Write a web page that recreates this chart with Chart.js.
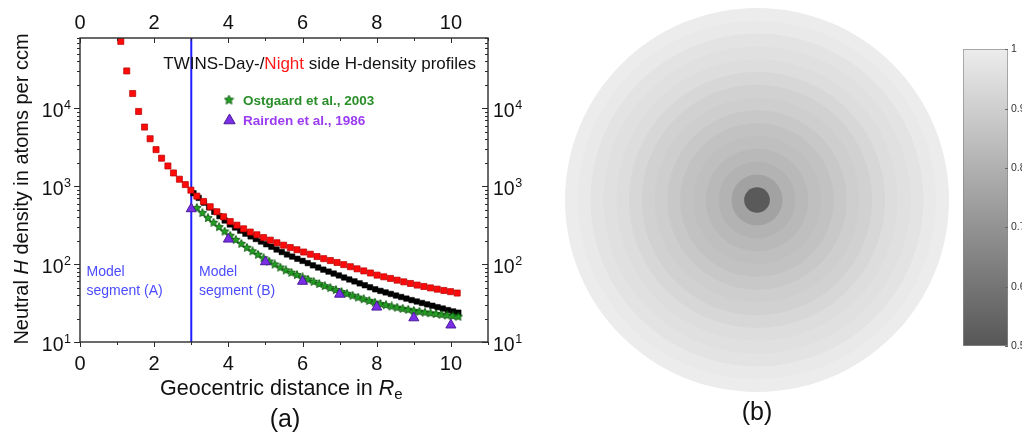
<!DOCTYPE html>
<html><head><meta charset="utf-8">
<script src="https://cdn.jsdelivr.net/npm/chart.js@4.4.1/dist/chart.umd.min.js"></script>
<style>
html,body{margin:0;padding:0;background:#fff;}
body{width:1022px;height:436px;position:relative;overflow:hidden;}
canvas{position:absolute;}
#ca{left:0;top:0;}
#cb{left:565px;top:8px;}
#cc{left:955px;top:40px;}
</style></head><body>
<canvas id="ca" width="540" height="436"></canvas>
<canvas id="cb" width="384" height="428"></canvas>
<canvas id="cc" width="80" height="320"></canvas>
<script>
// ---------- data: panel (a) ----------
const nightX = [1.10,1.26,1.42,1.58,1.74,1.89,2.05,2.20,2.37,2.52,2.68,2.84,2.99,
  3.15,3.33,3.51,3.69,3.87,4.05,4.23,4.41,4.59,4.77,4.95,5.13,5.31,5.49,5.67,5.85,6.03,6.21,6.39,6.57,
  6.75,6.93,7.11,7.29,7.47,7.65,7.83,8.01,8.19,8.37,8.55,8.73,8.91,9.09,9.27,9.45,9.63,9.81,9.99,10.17];
const nightY = [72400,30200,15500,9120,5750,4070,2950,2290,1820,1480,1230,1050,890,
  746,638,545,470,405,352,316,284,258,238,219,203,188,175,163,153,143,134,125,117.5,
  111,105,98.5,92.6,87.0,81.8,76.9,72.2,68.7,65.5,62.2,59.2,56.4,53.8,51.6,49.5,47.7,45.9,44.3,42.5];
const dayX = [3.06,3.20,3.34,3.48,3.62,3.76,3.90,4.04,4.18,4.32,4.46,4.60,4.74,4.88,5.02,5.16,5.30,5.44,
  5.58,5.72,5.86,6.00,6.14,6.28,6.42,6.56,6.70,6.84,6.98,7.12,7.26,7.40,7.54,7.68,7.82,7.96,8.10,8.24,
  8.38,8.52,8.66,8.80,8.94,9.08,9.22,9.36,9.50,9.64,9.78,9.92,10.06,10.20];
const dayY = [813,708,615,535,470,413,363,323,295,269,246,227,210,195,180,167,154,143,
  133,125,117,110,103,96.4,90.4,84.9,80.2,75.7,71.5,67.3,63.5,60.0,56.6,53.5,50.4,47.5,45.3,43.3,
  41.4,39.5,37.8,36.1,34.5,33.1,31.7,30.4,29.2,28.0,26.9,25.7,24.7,23.8];
const ostX = [3.15,3.30,3.45,3.60,3.75,3.90,4.05,4.20,4.35,4.50,4.65,4.80,4.95,5.10,5.25,5.40,5.55,5.70,
  5.85,6.00,6.15,6.30,6.45,6.60,6.75,6.90,7.05,7.20,7.35,7.50,7.65,7.80,7.95,8.10,8.25,8.40,8.55,8.70,
  8.85,9.00,9.15,9.30,9.45,9.60,9.75,9.90,10.05,10.20];
const ostY = [525,453,390,340,299,262,231,205,182,162,146,132,119,108,98.9,90.4,83.2,77.6,
  72.4,67.6,63.3,59.3,55.5,52.2,49.3,46.5,43.9,41.5,39.3,37.2,35.4,33.7,32.1,30.8,29.7,28.6,27.6,26.7,
  25.9,25.1,24.5,23.9,23.4,22.9,22.4,21.9,21.5,21.1];
const rairX = [3,4,5,6,7,8,9,10];
const rairY = [513,209,107,60,41,28,20.4,16.5];
const boundaryX = 3;
const xTickLabels = [0,2,4,6,8,10];
const yTickExps = [1,2,3,4];

// ---------- data: panel (b) ----------
// ring outer radius (normalised to disk radius) and shade value, inner -> outer
const ringRadii  = [0.067,0.133,0.200,0.267,0.333,0.400,0.467,0.533,0.600,0.667,0.733,0.800,0.867,0.933,1.000];
const ringValues = [0.51,0.75,0.81,0.83,0.85,0.86,0.88,0.90,0.91,0.93,0.95,0.96,0.97,0.99,1.0];
const colorbarTicks = [0.5,0.6,0.7,0.8,0.9,1.0];

// ---------- helpers ----------
const SANS = "'Liberation Sans', Arial, Helvetica, sans-serif";
const pts = (xs, ys) => xs.map((x, i) => ({x, y: ys[i]}));
function grayOf(v){ const g = Math.round(87 + (v - 0.5) / 0.5 * (236 - 87)); return `rgb(${g},${g},${g})`; }
function makeStar(size, fill, stroke){
  const c = document.createElement('canvas'); c.width = c.height = size;
  const g = c.getContext('2d'); const cx = size / 2, R = size / 2 - 0.6, r = R * 0.47;
  g.beginPath();
  for (let i = 0; i < 10; i++){ const ang = -Math.PI / 2 + i * Math.PI / 5; const rr = i % 2 ? r : R; g.lineTo(cx + rr * Math.cos(ang), cx + rr * Math.sin(ang)); }
  g.closePath(); g.fillStyle = fill; g.fill(); g.strokeStyle = stroke; g.lineWidth = 0.9; g.stroke();
  return c;
}
const starImg = makeStar(10, '#23a023', '#0b560b');
const starLegend = makeStar(11, '#23a023', '#0b560b');
function drawRuns(ctx, runs, x, y){
  for (const r of runs){ ctx.font = r.font; ctx.fillStyle = r.color; ctx.fillText(r.t, x, y + (r.dy || 0)); x += ctx.measureText(r.t).width; }
}
function runsWidth(ctx, runs){ let w = 0; for (const r of runs){ ctx.font = r.font; w += ctx.measureText(r.t).width; } return w; }

// ---------- panel (a) ----------
const frameA = {
  id: 'frameA',
  afterDatasetsDraw(chart){
    const {ctx, chartArea: a} = chart; const x = chart.scales.x, y = chart.scales.y;
    ctx.save();
    ctx.strokeStyle = '#2b2b2b'; ctx.lineWidth = 1.4;
    ctx.strokeRect(a.left, a.top, a.right - a.left, a.bottom - a.top);
    ctx.lineWidth = 1; ctx.beginPath();
    for (let v = 0; v <= x.max; v++){
      const px = Math.round(x.getPixelForValue(v)) + 0.5; const len = v % 2 === 0 ? 5 : 3;
      ctx.moveTo(px, a.bottom); ctx.lineTo(px, a.bottom + len);
      ctx.moveTo(px, a.top); ctx.lineTo(px, a.top + len);
    }
    for (const e of yTickExps) for (let m = 1; m <= 9; m++){
      const v = m * Math.pow(10, e); if (v > y.max) break;
      const py = Math.round(y.getPixelForValue(v)) + 0.5; const len = m === 1 ? 6 : 3;
      ctx.moveTo(a.left, py); ctx.lineTo(a.left - len, py);
      ctx.moveTo(a.right, py); ctx.lineTo(a.right - len, py);
    }
    ctx.stroke();
    // x tick labels
    ctx.fillStyle = '#111'; ctx.font = `20px ${SANS}`; ctx.textAlign = 'center'; ctx.textBaseline = 'alphabetic';
    for (const v of xTickLabels){
      const px = x.getPixelForValue(v);
      ctx.fillText(String(v), px, a.bottom + 27.5);
      ctx.fillText(String(v), px, a.top - 9);
    }
    // y tick labels
    ctx.textAlign = 'left';
    for (const e of yTickExps){
      const py = y.getPixelForValue(Math.pow(10, e));
      ctx.font = `12.5px ${SANS}`; const ew = ctx.measureText(String(e)).width;
      ctx.font = `19.5px ${SANS}`; const bw = ctx.measureText('10').width;
      const xl = 71 - ew - bw - 0.5;
      ctx.fillText('10', xl, py + 8.5);
      ctx.font = `12.5px ${SANS}`; ctx.fillText(String(e), xl + bw + 0.5, py + 0.5);
      const xr = a.right + 5;
      ctx.font = `19.5px ${SANS}`; ctx.fillText('10', xr, py + 8.5);
      ctx.font = `12.5px ${SANS}`; ctx.fillText(String(e), xr + bw + 0.5, py + 0.5);
    }
    // y title
    ctx.save(); ctx.translate(28, 189); ctx.rotate(-Math.PI / 2);
    const yRuns = [
      {t: 'Neutral ', font: `20px ${SANS}`, color: '#111'},
      {t: 'H', font: `italic 20px ${SANS}`, color: '#111'},
      {t: ' density in atoms per ccm', font: `20px ${SANS}`, color: '#111'}];
    drawRuns(ctx, yRuns, -runsWidth(ctx, yRuns) / 2, 0);
    ctx.restore();
    // x title
    drawRuns(ctx, [
      {t: 'Geocentric distance in ', font: `21.5px ${SANS}`, color: '#111'},
      {t: 'R', font: `italic 21.5px ${SANS}`, color: '#111'},
      {t: 'e', font: `15px ${SANS}`, color: '#111', dy: 4}], 160, 395);
    // header
    const hRuns = [
      {t: 'TWINS-Day-/', font: `17px ${SANS}`, color: '#111'},
      {t: 'Night', font: `17px ${SANS}`, color: '#ff1a1a'},
      {t: ' side H-density profiles', font: `17px ${SANS}`, color: '#111'}];
    drawRuns(ctx, hRuns, 476 - runsWidth(ctx, hRuns), 68.5);
    // legend
    ctx.drawImage(starLegend, 229 - starLegend.width / 2, 100 - starLegend.height / 2);
    ctx.beginPath();
    const tr = 6.5, tcx = 229.5, tcy = 120.5;
    for (let i = 0; i < 3; i++){ const ang = -Math.PI / 2 + i * 2 * Math.PI / 3; ctx.lineTo(tcx + tr * Math.cos(ang), tcy + tr * Math.sin(ang)); }
    ctx.closePath(); ctx.fillStyle = '#7a2fe6'; ctx.fill(); ctx.strokeStyle = '#4a1a9a'; ctx.lineWidth = 1; ctx.stroke();
    ctx.font = `bold 13.5px ${SANS}`; ctx.fillStyle = '#2a8f2a'; ctx.fillText('Ostgaard et al., 2003', 243, 105);
    ctx.fillStyle = '#9b3cf2'; ctx.fillText('Rairden et al., 1986', 243, 125);
    // model segment labels
    ctx.font = `14px ${SANS}`; ctx.fillStyle = '#4b4bff';
    ctx.fillText('Model', 86.5, 276); ctx.fillText('segment (A)', 86.5, 294.5);
    ctx.fillText('Model', 199, 276); ctx.fillText('segment (B)', 199, 294.5);
    // panel label
    ctx.font = `25px ${SANS}`; ctx.fillStyle = '#111'; ctx.textAlign = 'center'; ctx.textBaseline = 'middle';
    ctx.fillText('(a)', 285, 420);
    ctx.restore();
  }
};

new Chart(document.getElementById('ca'), {
  type: 'scatter',
  data: { datasets: [
    {label: 'Rairden et al., 1986', data: pts(rairX, rairY), pointStyle: 'triangle', pointRadius: 5.8,
     backgroundColor: '#7a2fe6', borderColor: '#4a1a9a', borderWidth: 1},
    {label: 'Night', data: pts(nightX, nightY), pointStyle: 'rect', pointRadius: 4.3,
     backgroundColor: '#ff0a0a', borderColor: '#b40000', borderWidth: 0.7},
    {label: 'Ostgaard et al., 2003', data: pts(ostX, ostY), pointStyle: starImg, pointRadius: 5},
    {label: 'Day', data: pts(dayX, dayY), pointStyle: 'rect', pointRadius: 3.9,
     backgroundColor: '#000', borderColor: '#000', borderWidth: 0.5},
    {type: 'line', label: 'boundary', data: [{x: boundaryX, y: 10}, {x: boundaryX, y: 80000}],
     borderColor: '#1e1eff', borderWidth: 2, pointRadius: 0, showLine: true}
  ]},
  options: {
    responsive: false, animation: false, devicePixelRatio: 1,
    layout: {padding: {left: 80, right: 52, top: 38, bottom: 94}},
    plugins: {legend: {display: false}, tooltip: {enabled: false}},
    scales: {
      x: {type: 'linear', min: 0, max: 11, display: false},
      y: {type: 'logarithmic', min: 10, max: 80000, display: false}
    }
  },
  plugins: [frameA]
});

// ---------- panel (b) disk: concentric filled discs, innermost on top ----------
const labelB = {
  id: 'labelB',
  afterDraw(chart){
    const ctx = chart.ctx; ctx.save();
    ctx.font = `25px ${SANS}`; ctx.fillStyle = '#111'; ctx.textAlign = 'center'; ctx.textBaseline = 'middle';
    ctx.fillText('(b)', 192, 405); ctx.restore();
  }
};
new Chart(document.getElementById('cb'), {
  type: 'scatter',
  data: { datasets: ringRadii.map((r, i) => ({
    label: 'ring ' + i, data: [{x: 0, y: 0}],
    pointRadius: (c) => { const s = c.chart.scales.x; return s.getPixelForValue(r) - s.getPixelForValue(0); },
    pointStyle: 'circle', backgroundColor: grayOf(ringValues[i]), borderWidth: 0, clip: false })) },
  options: {
    responsive: false, animation: false, devicePixelRatio: 1,
    layout: {padding: {left: 0, right: 0, top: 0, bottom: 44}},
    plugins: {legend: {display: false}, tooltip: {enabled: false}},
    events: [],
    scales: {
      x: {type: 'linear', min: -1, max: 1, display: false},
      y: {type: 'linear', min: -1, max: 1, display: false}
    }
  },
  plugins: [labelB]
});

// ---------- colorbar ----------
const cbTicks = {
  id: 'cbTicks',
  afterDatasetsDraw(chart){
    const {ctx, chartArea: a} = chart; const y = chart.scales.y;
    ctx.save(); ctx.strokeStyle = '#666'; ctx.lineWidth = 1; ctx.beginPath();
    for (const v of colorbarTicks){ const py = Math.round(y.getPixelForValue(v)) + 0.5; ctx.moveTo(a.right - 3, py); ctx.lineTo(a.right, py); }
    ctx.stroke(); ctx.restore();
  }
};
new Chart(document.getElementById('cc'), {
  type: 'bar',
  data: { labels: [''], datasets: [{
    data: [[colorbarTicks[0], colorbarTicks[colorbarTicks.length - 1]]],
    backgroundColor: (c) => {
      const ch = c.chart; if (!ch.chartArea) return '#aaa';
      const y = ch.scales.y; const g = ch.ctx.createLinearGradient(0, y.getPixelForValue(0.5), 0, y.getPixelForValue(1));
      g.addColorStop(0, grayOf(0.5)); g.addColorStop(1, grayOf(1)); return g;
    },
    borderColor: '#8a8a8a', borderWidth: 1, borderSkipped: false,
    barPercentage: 1, categoryPercentage: 1 }] },
  options: {
    responsive: false, animation: false, devicePixelRatio: 1,
    layout: {padding: {left: 8, right: 0, top: 9, bottom: 14}},
    plugins: {legend: {display: false}, tooltip: {enabled: false}},
    scales: {
      x: {display: false},
      y: {position: 'right', min: 0.5, max: 1,
          ticks: {stepSize: 0.1, font: {size: 10.5, family: SANS}, color: '#333', padding: 3,
                  callback: v => String(+v.toFixed(1))},
          grid: {display: false, drawTicks: false}, border: {display: false},
          afterFit: s => { s.width = 27; }}
    }
  },
  plugins: [cbTicks]
});
</script></body></html>
